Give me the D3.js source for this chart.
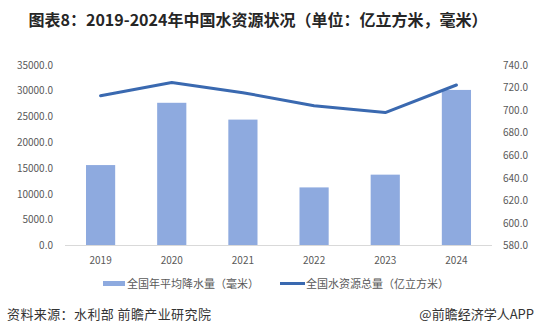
<!DOCTYPE html>
<html>
<head>
<meta charset="utf-8">
<script src="https://cdn.jsdelivr.net/npm/d3@7"></script>
<style>
  html, body { margin: 0; padding: 0; background: #fff; }
  svg { display: block; font-family: "Noto Sans CJK SC", "Noto Sans", sans-serif; }
</style>
</head>
<body>
<svg id="chart" width="536" height="335"></svg>
<script>
// Years on the category axis
const years = ["2019", "2020", "2021", "2022", "2023", "2024"];
// National average annual precipitation (mm) — bars, right axis
const precipitation = [651.3, 706.5, 691.6, 631.5, 642.8, 717.9];
// National total water resources (100 million m³) — line, left axis
const waterResources = [29041.0, 31605.2, 29638.2, 27088.1, 25782.5, 31123.0];
// Axis tick values
const leftTicks = [0, 5000, 10000, 15000, 20000, 25000, 30000, 35000];
const rightTicks = [580, 600, 620, 640, 660, 680, 700, 720, 740];

const titleText = "图表8：2019-2024年中国水资源状况（单位：亿立方米，毫米）";
const barLegend = "全国年平均降水量（毫米）";
const lineLegend = "全国水资源总量（亿立方米）";
const sourceText = "资料来源：水利部  前瞻产业研究院";
const creditText = "@前瞻经济学人APP";

const svg = d3.select("#chart");
const plot = { left: 65, right: 492, top: 65, bottom: 245.5 };

const x = d3.scaleBand().domain(years)
  .range([plot.left, plot.right])
  .paddingInner(0.59).paddingOuter(0.295);
const yLeft = d3.scaleLinear().domain([0, 35000]).range([plot.bottom, plot.top]);
const yRight = d3.scaleLinear().domain([580, 740]).range([plot.bottom, plot.top]);

const barColor = "#8eaadf";
const lineColor = "#3a69b0";
const textColor = "#595959";

// Title
svg.append("text")
  .attr("x", 258).attr("y", 25.5)
  .attr("text-anchor", "middle")
  .attr("font-size", 16).attr("font-weight", 700)
  .attr("fill", "#262626")
  .text(titleText);

// Bars (precipitation, right axis)
svg.append("g").selectAll("rect")
  .data(years.map((y, i) => ({ year: y, v: precipitation[i] })))
  .join("rect")
  .attr("x", d => x(d.year))
  .attr("width", x.bandwidth())
  .attr("y", d => yRight(d.v))
  .attr("height", d => yRight(580) - yRight(d.v))
  .attr("fill", barColor);

// Baseline
svg.append("line")
  .attr("x1", plot.left).attr("x2", plot.right)
  .attr("y1", plot.bottom).attr("y2", plot.bottom)
  .attr("stroke", "#d9d9d9").attr("stroke-width", 1);

// Line (water resources, left axis)
const line = d3.line()
  .x((d, i) => x(years[i]) + x.bandwidth() / 2)
  .y(d => yLeft(d));
svg.append("path")
  .datum(waterResources)
  .attr("d", line)
  .attr("fill", "none")
  .attr("stroke", lineColor)
  .attr("stroke-width", 3)
  .attr("stroke-linejoin", "round")
  .attr("stroke-linecap", "round");

// Left axis
const gLeft = svg.append("g")
  .attr("transform", `translate(${plot.left - 8},0)`)
  .call(d3.axisLeft(yLeft).tickValues(leftTicks).tickFormat(d3.format(".1f")).tickSize(0).tickPadding(4));
// Right axis
const gRight = svg.append("g")
  .attr("transform", `translate(${plot.right + 7},0)`)
  .call(d3.axisRight(yRight).tickValues(rightTicks).tickFormat(d3.format(".1f")).tickSize(0).tickPadding(4));
// Category axis
const gBottom = svg.append("g")
  .attr("transform", `translate(0,${plot.bottom + 8})`)
  .call(d3.axisBottom(x).tickSize(0).tickPadding(3));

[gLeft, gRight, gBottom].forEach(g => {
  g.select(".domain").remove();
  g.selectAll("text")
    .attr("font-family", "'Noto Sans CJK SC', sans-serif")
    .attr("font-size", 10)
    .attr("fill", textColor);
});

// Legend
const legend = svg.append("g").attr("font-size", 11).attr("fill", textColor);
legend.append("rect")
  .attr("x", 103).attr("y", 281).attr("width", 22).attr("height", 5)
  .attr("fill", barColor);
legend.append("text")
  .attr("x", 127).attr("y", 287.5)
  .attr("fill", textColor)
  .text(barLegend);
legend.append("line")
  .attr("x1", 280).attr("x2", 305).attr("y1", 283.5).attr("y2", 283.5)
  .attr("stroke", lineColor).attr("stroke-width", 3);
legend.append("text")
  .attr("x", 306).attr("y", 287.5)
  .attr("fill", textColor)
  .text(lineLegend);

// Footer
svg.append("text")
  .attr("x", 7).attr("y", 318.5)
  .attr("font-size", 13).attr("letter-spacing", 0.4).attr("fill", "#333")
  .text(sourceText);
svg.append("text")
  .attr("x", 534).attr("y", 318.5)
  .attr("text-anchor", "end")
  .attr("font-size", 13).attr("fill", "#333")
  .text(creditText);
</script>
</body>
</html>
